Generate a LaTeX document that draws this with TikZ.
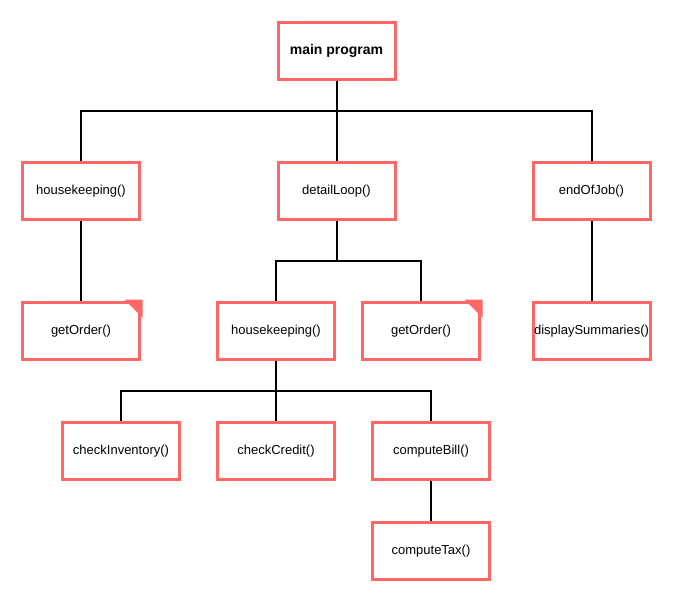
\documentclass[tikz,border=0pt]{standalone}
\usepackage{fontspec}
\setmainfont{Liberation Sans}
\usepackage{tikz}
\usetikzlibrary{arrows}

\definecolor{boxred}{HTML}{FF6666}

\begin{document}
\begin{tikzpicture}[x=1pt,y=-1pt,semithick]

        \tikzstyle{module}=[draw=boxred,fill=white,line width=3pt,minimum width=117pt,minimum height=57pt,font=\fontsize{13}{15}\selectfont,inner sep=0pt]
        \tikzstyle{link}=[draw=black,line width=2pt]

        \useasboundingbox (0,0) rectangle (673,603);

        \node[module]   (main)  at (336.5,51)  {\fontsize{14}{16}\selectfont\textbf{main program}};
        \node[module]   (hk)    at (81,191)    {housekeeping()};
        \node[module]   (dl)    at (336.5,191) {detailLoop()};
        \node[module]   (eoj)   at (591.5,191) {endOfJob()};
        \node[module]   (go)    at (81,331)    {getOrder()};
        \node[module]   (hk2)   at (276,331)   {housekeeping()};
        \node[module]   (go2)   at (421,331)   {getOrder()};
        \node[module]   (ds)    at (591.5,331) {displaySummaries()};
        \node[module]   (ci)    at (121,451)   {checkInventory()};
        \node[module]   (cc)    at (276,451)   {checkCredit()};
        \node[module]   (cb)    at (431,451)   {computeBill()};
        \node[module]   (ct)    at (431,551)   {computeTax()};

        % corner marks on the reused modules
        \fill[boxred] ([shift={(1.5,-1.5)}]go.north east) -- ++(-18,0) -- ++(18,18) -- cycle;
        \fill[boxred] ([shift={(1.5,-1.5)}]go2.north east) -- ++(-18,0) -- ++(18,18) -- cycle;

        \path[link]
        (main.south) -- ++(0,30) -| (hk.north)
        (main.south) -- (dl.north)
        (main.south) -- ++(0,30) -| (eoj.north)

        (hk.south)  -- (go.north)
        (eoj.south) -- (ds.north)

        (dl.south) -- ++(0,40) -| (hk2.north)
        (dl.south) -- ++(0,40) -| (go2.north)

        (hk2.south) -- ++(0,30) -| (ci.north)
        (hk2.south) -- (cc.north)
        (hk2.south) -- ++(0,30) -| (cb.north)

        (cb.south) -- (ct.north)
    ;
    \end{tikzpicture}
\end{document}
